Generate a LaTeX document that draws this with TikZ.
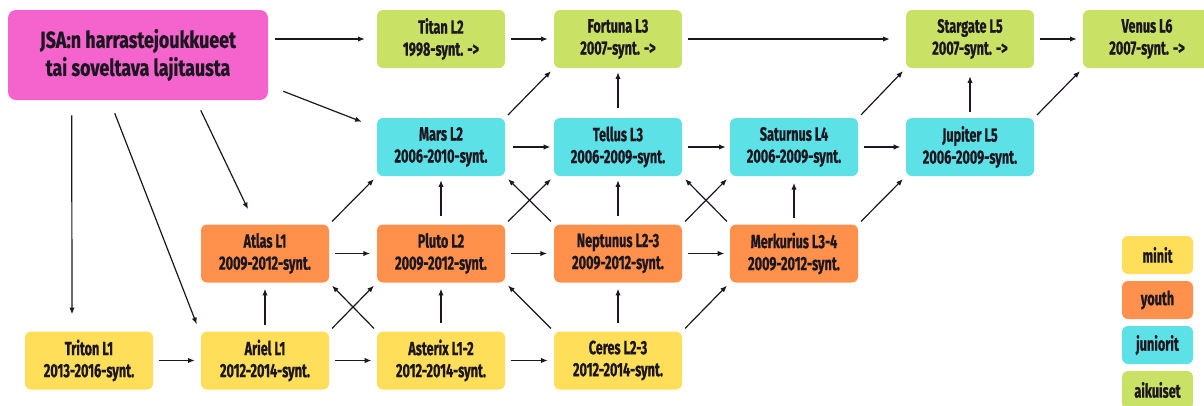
\documentclass[tikz,border=0pt]{standalone}
\usepackage{fontspec}
\setmainfont{Fira Sans}[FakeStretch=0.66, BoldFeatures={FakeBold=0.8}]
\newfontfamily\jsafont{Fira Sans}[FakeStretch=0.77, BoldFeatures={FakeBold=0.8}]
\usetikzlibrary{arrows.meta}
\definecolor{cpink}{RGB}{245,100,205}
\definecolor{cyel}{RGB}{255,222,89}
\definecolor{cora}{RGB}{255,145,77}
\definecolor{ccyan}{RGB}{92,225,230}
\definecolor{cgreen}{RGB}{201,226,101}
\definecolor{ctxt}{RGB}{28,22,32}
\begin{document}
\begin{tikzpicture}[x=0.75pt,y=-0.75pt,
  box/.style={rounded corners=4.5pt, minimum width=96pt, minimum height=43.5pt, inner sep=0pt, align=center, text=ctxt, font=\bfseries\fontsize{14.4}{16.5}\selectfont},
  legbox/.style={rounded corners=4.5pt, minimum width=53.25pt, minimum height=28.5pt, inner sep=0pt, align=center, text=ctxt, font=\bfseries\fontsize{14.4}{16.5}\selectfont},
  ar/.style={-{Latex[length=5pt,width=4pt]}, line width=0.9pt, draw=ctxt, shorten <=3pt, shorten >=3pt}]
\useasboundingbox (0,0) rectangle (1204,405);
% nodes
\node[box, fill=cpink, minimum width=195pt, minimum height=67.5pt, rounded corners=6pt, font=\jsafont\bfseries\fontsize{17.4}{21}\selectfont] (jsa) at (138,55) {JSA:n harrastejoukkueet\\tai soveltava lajitausta};
\node[box, fill=cgreen] (titan) at (441,39) {Titan L2\\1998-synt. ->};
\node[box, fill=cgreen] (fortuna) at (618,39) {Fortuna L3\\2007-synt. ->};
\node[box, fill=cgreen] (stargate) at (970,39) {Stargate L5\\2007-synt. ->};
\node[box, fill=cgreen] (venus) at (1147,39) {Venus L6\\2007-synt. ->};
\node[box, fill=ccyan] (mars) at (441,147) {Mars L2\\2006-2010-synt.};
\node[box, fill=ccyan] (tellus) at (618,147) {Tellus L3\\2006-2009-synt.};
\node[box, fill=ccyan] (saturnus) at (794,147) {Saturnus L4\\2006-2009-synt.};
\node[box, fill=ccyan] (jupiter) at (970,147) {Jupiter L5\\2006-2009-synt.};
\node[box, fill=cora] (atlas) at (265,253.5) {Atlas L1\\2009-2012-synt.};
\node[box, fill=cora] (pluto) at (441,253.5) {Pluto L2\\2009-2012-synt.};
\node[box, fill=cora] (neptunus) at (618,253.5) {Neptunus L2-3\\2009-2012-synt.};
\node[box, fill=cora] (merkurius) at (794,253.5) {Merkurius L3-4\\2009-2012-synt.};
\node[box, fill=cyel] (triton) at (89,360.5) {Triton L1\\2013-2016-synt.};
\node[box, fill=cyel] (ariel) at (265,360.5) {Ariel L1\\2012-2014-synt.};
\node[box, fill=cyel] (asterix) at (441,360.5) {Asterix L1-2\\2012-2014-synt.};
\node[box, fill=cyel] (ceres) at (618,360.5) {Ceres L2-3\\2012-2014-synt.};
% legend
\node[legbox, fill=cyel] (lminit) at (1157.5,255) {minit};
\node[legbox, fill=cora] (lyouth) at (1157.5,300) {youth};
\node[legbox, fill=ccyan] (ljun) at (1157.5,345) {juniorit};
\node[legbox, fill=cgreen] (laik) at (1157.5,390) {aikuiset};
% arrows from JSA
\draw[ar, shorten <=5.25pt, shorten >=9pt] (jsa.east |- titan.west) -- (titan.west);
\draw[ar, shorten <=0pt, shorten >=0pt] ([shift={(15,-9)}]jsa.south east) -- ([shift={(-15,4)}]mars.north west);
\draw[ar, shorten <=0pt, shorten >=0pt] ([shift={(64,15)}]jsa.south west) -- ([shift={(-17,-17)}]triton.north);
\draw[ar, shorten <=0pt, shorten >=0pt] ([shift={(107,13)}]jsa.south west) -- ([shift={(-4,-7)}]ariel.north west);
\draw[ar, shorten <=0pt, shorten >=0pt] ([shift={(193,10)}]jsa.south west) -- ([shift={(-17,-15)}]atlas.north);
% top row
\draw[ar, shorten <=4.5pt, shorten >=4.5pt] (titan) -- (fortuna);
\draw[ar, shorten <=4.5pt, shorten >=12pt] (fortuna) -- (stargate);
\draw[ar, shorten <=4.5pt, shorten >=4.5pt] (stargate) -- (venus);
% into top row
\draw[ar] (mars.north east) -- (fortuna.south west);
\draw[ar, shorten <=7.5pt] (tellus) -- (fortuna);
\draw[ar] (saturnus.north east) -- (stargate.south west);
\draw[ar, shorten <=4.5pt, shorten >=6pt] (jupiter) -- (stargate);
\draw[ar] (jupiter.north east) -- (venus.south west);
% juniorit row
\draw[ar, shorten <=6pt, shorten >=2.5pt] (mars) -- (tellus);
\draw[ar, shorten <=4.5pt, shorten >=3pt] (tellus) -- (saturnus);
\draw[ar, shorten <=4pt, shorten >=4pt] (saturnus) -- (jupiter);
% youth to juniorit
\draw[ar] (atlas.north east) -- (mars.south west);
\draw[ar, shorten <=6pt] (pluto) -- (mars);
\draw[ar] (pluto.north east) -- (tellus.south west);
\draw[ar] (neptunus.north west) -- (mars.south east);
\draw[ar, shorten <=6pt] (neptunus) -- (tellus);
\draw[ar] (neptunus.north east) -- (saturnus.south west);
\draw[ar] (merkurius.north west) -- (tellus.south east);
\draw[ar, shorten <=4.5pt, shorten >=5pt] (merkurius) -- (saturnus);
\draw[ar] (merkurius.north east) -- (jupiter.south west);
% youth row
\draw[ar, shorten <=4.5pt, shorten >=5pt] (atlas) -- (pluto);
\draw[ar, shorten <=4pt, shorten >=5pt] (pluto) -- (neptunus);
\draw[ar, shorten <=4.5pt, shorten >=4pt] (neptunus) -- (merkurius);
% minit to youth
\draw[ar, shorten <=5pt, shorten >=4.5pt] (ariel) -- (atlas);
\draw[ar] (ariel.north east) -- (pluto.south west);
\draw[ar] (asterix.north west) -- (atlas.south east);
\draw[ar, shorten <=6pt, shorten >=4.5pt] (asterix) -- (pluto);
\draw[ar] (ceres.north west) -- (pluto.south east);
\draw[ar, shorten <=6pt, shorten >=4.5pt] (ceres) -- (neptunus);
\draw[ar] (ceres.north east) -- (merkurius.south west);
% minit row
\draw[ar, shorten <=4pt, shorten >=4.5pt] (triton) -- (ariel);
\draw[ar, shorten <=4.5pt, shorten >=4pt] (ariel) -- (asterix);
\draw[ar, shorten <=4pt, shorten >=4.5pt] (asterix) -- (ceres);
\end{tikzpicture}
\end{document}
